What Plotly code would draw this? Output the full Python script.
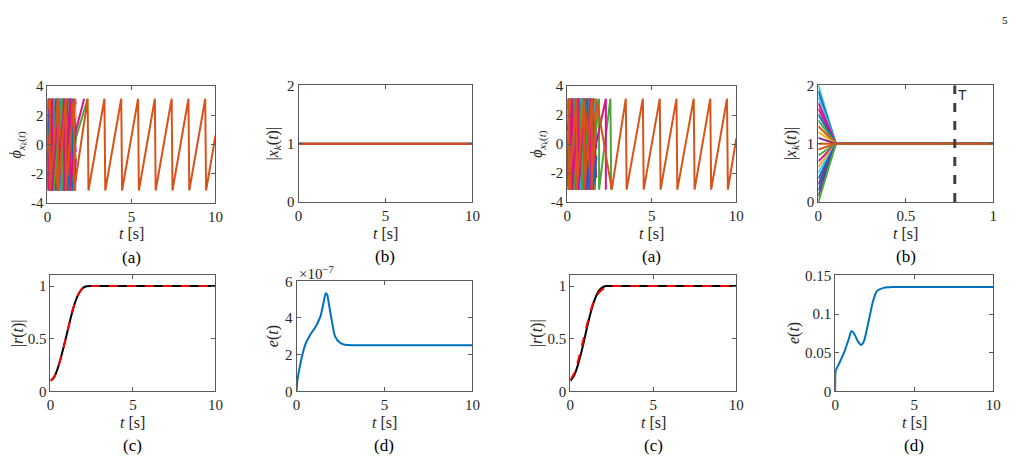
import math
import plotly.graph_objects as go

PI = math.pi
W, H = 1024, 466

# ---------------- colours ----------------
BLUE, ORANGE, YELLOW, PURPLE = "#0072BD", "#D95319", "#EDB120", "#7E2F8E"
GREEN, CYAN, MAGENTA = "#47A93B", "#4DBEEE", "#D4148A"

# ---------------- panel (a) left : phases, wrap times ----------------
a1_colors = [BLUE, MAGENTA, YELLOW, PURPLE, CYAN, GREEN, MAGENTA, BLUE, YELLOW, CYAN,
             PURPLE, MAGENTA, BLUE, ORANGE, GREEN, MAGENTA]
a1_start = [-3.1, 2.0, -1.0, 1.5, 0.5, 2.8, -2.6, 0.0, -2.5, 3.0, 1.0, -0.5, -1.5, 0.8, -2.0, -3.0]
a1_up = [True, False, True, False, True, False, True, False, False, False, True, False, True,
         False, True, True]
a1_wraps = [[0.02, 0.34, 0.66, 0.98, 1.30], [0.15, 0.45, 0.75, 1.05, 1.35, 1.65],
            [0.22, 0.68, 1.14, 1.60], [0.30, 0.80, 1.30], [0.10, 0.46, 0.82, 1.18, 1.54],
            [0.18, 0.56, 0.94, 1.32], [0.08, 0.38, 0.68, 0.98, 1.28, 1.58],
            [0.12, 0.52, 0.92, 1.32], [0.05, 0.42, 0.80, 1.18, 1.56],
            [0.03, 0.40, 0.77, 1.14, 1.51], [0.24, 0.62, 1.00, 1.38],
            [0.06, 0.33, 0.60, 0.87, 1.14, 1.41], [0.16, 0.50, 0.84, 1.18, 1.52],
            [0.20, 0.60, 1.00, 1.40], [0.36, 0.86, 1.36], [0.28, 0.64, 1.00, 1.36]]
a1_tail_t = [[1.60], [1.68], [1.68], [1.68], [1.66], [1.68], [1.68], [1.66], [1.68], [1.66],
             [1.66], [1.68], [1.66], [1.66], [1.70, 2.39], [1.68, 2.18]]
a1_tail_p = [[2.6], [2.8], [-2.0], [-2.5], [-1.0], [-1.0], [-1.0], [0.3], [1.8], [0.6],
             [1.5], [-0.5], [-1.0], [1.2], [0.5, 3.14], [0.9, 3.14]]
a1_sync_start = 2.4
a1_sync_wraps_early = [0.14, 0.62, 1.10, 1.58]
a1_sync_peaks = [2.39, 3.39, 4.39, 5.39, 6.39, 7.39, 8.39, 9.39]
a1_sync_end = 0.63

# ---------------- panel (a) right ----------------
a2_colors = [BLUE, MAGENTA, YELLOW, PURPLE, CYAN, GREEN, MAGENTA, BLUE, YELLOW, CYAN,
             PURPLE, MAGENTA, BLUE, ORANGE, GREEN, MAGENTA]
a2_start = [-3.0, 1.8, -0.8, 1.2, 0.6, 2.6, -2.4, 0.2, -2.2, 2.9, 0.9, -0.4, -1.7, 0.6, -2.2, -2.9]
a2_up = [True, False, True, False, True, False, True, False, False, False, True, False, True,
         False, True, True]
a2_wraps = [[0.03, 0.36, 0.69, 1.02, 1.35], [0.12, 0.42, 0.72, 1.02, 1.32, 1.62],
            [0.25, 0.70, 1.15, 1.60], [0.28, 0.78, 1.28], [0.12, 0.48, 0.84, 1.20, 1.56],
            [0.20, 0.58, 0.96, 1.34], [0.10, 0.40, 0.70, 1.00, 1.30, 1.60],
            [0.14, 0.54, 0.94, 1.34], [0.07, 0.44, 0.82, 1.20, 1.58],
            [0.04, 0.41, 0.78, 1.15, 1.52], [0.26, 0.64, 1.02, 1.40],
            [0.08, 0.35, 0.62, 0.89, 1.16, 1.43], [0.18, 0.52, 0.86, 1.20, 1.54],
            [0.22, 0.62, 1.02, 1.42], [0.38, 0.88, 1.38], [0.30, 0.66, 1.02, 1.38]]
a2_tail_t = [[1.68], [1.72], [1.72], [1.72], [1.70], [1.72], [1.72], [1.70], [1.72], [1.70],
             [1.70], [1.72], [1.70], [1.70], [1.72, 1.88, 1.88, 2.55, 2.60],
             [1.70, 2.28, 2.28]]
a2_tail_p = [[2.4], [2.6], [-1.8], [-2.3], [-0.8], [-1.2], [-0.8], [0.4], [1.6], [0.7],
             [1.3], [-0.3], [-0.9], [1.0], [1.0, 3.14, -3.14, 3.14, -3.14], [0.0, 3.14, -3.14]]
a2_sync_start = 2.4
a2_sync_wraps_early = [0.10, 0.55, 1.00, 1.45]
a2_sync_mid_t = [1.72, 2.63]
a2_sync_mid_p = [3.14, -3.14]
a2_sync_peaks = [3.46, 4.47, 5.47, 6.46, 7.48, 8.46, 9.45]
a2_sync_end = 0.4

# ---------------- panel (b) right : amplitudes ----------------
b2_start = [2.0, 1.9, 1.8, 1.7, 1.6, 1.5, 1.4, 1.3, 1.2, 1.1, 0.9, 0.8, 0.7, 0.6, 0.5, 0.4,
            0.3, 0.2, 0.1, 0.0]
b2_colors = [CYAN, BLUE, CYAN, MAGENTA, MAGENTA, BLUE, GREEN, ORANGE, YELLOW, PURPLE,
             ORANGE, GREEN, MAGENTA, YELLOW, CYAN, BLUE, PURPLE, BLUE, PURPLE, GREEN]
b2_conv_t = 0.1
b2_T = 0.78

# ---------------- panel (c) : order parameter ----------------
c_t = [0, 0.2, 0.4, 0.6, 0.8, 1.0, 1.2, 1.4, 1.6, 1.8, 2.0, 2.2, 2.5, 3.0, 10]
c1_black = [0.10, 0.13, 0.20, 0.30, 0.42, 0.55, 0.68, 0.80, 0.89, 0.95, 0.985, 0.998, 1.0, 1.0, 1.0]
c1_red = [0.10, 0.13, 0.20, 0.30, 0.42, 0.55, 0.68, 0.80, 0.89, 0.95, 0.985, 0.998, 1.0, 1.0, 1.0]
c2_black = [0.10, 0.14, 0.22, 0.33, 0.46, 0.60, 0.73, 0.84, 0.92, 0.97, 0.993, 1.0, 1.0, 1.0, 1.0]
c2_red = [0.11, 0.16, 0.25, 0.37, 0.50, 0.63, 0.75, 0.85, 0.91, 0.95, 0.975, 0.99, 1.0, 1.0, 1.0]

# ---------------- panel (d) : error ----------------
d1_t = [0, 0.05, 0.13, 0.32, 0.5, 0.79, 1.07, 1.35, 1.55, 1.66, 1.75, 1.81, 2.0, 2.19, 2.47,
        2.75, 3.1, 3.6, 10]
d1_e = [0, 0.6, 1.06, 1.94, 2.56, 3.1, 3.5, 4.06, 4.9, 5.35, 5.25, 4.94, 3.88, 3.0, 2.65,
        2.54, 2.52, 2.52, 2.52]   # units of 1e-7
d2_t = [0, 0.02, 0.06, 0.25, 0.56, 0.88, 1.02, 1.19, 1.46, 1.65, 1.82, 2.13, 2.4, 2.65, 3.07,
        3.7, 4.3, 10]
d2_e = [0, 0.024, 0.028, 0.036, 0.05, 0.069, 0.078, 0.075, 0.064, 0.06, 0.065, 0.092, 0.117,
        0.130, 0.134, 0.135, 0.135, 0.135]

# ---------------- layout boxes (pixels: left, right, top, bottom) ----------------
boxes = [(44, 214, 81, 202), (298, 474, 80, 201), (570, 741, 81, 201), (824, 1001, 80, 201),
         (47, 214, 277, 397), (296, 474, 283, 397), (573, 741, 277, 397), (841, 1001, 277, 397)]

fig = go.Figure()


def saw(t0, p0, up, wraps, tail_t, tail_p, slant=0.0):
    hi, lo = (PI, -PI) if up else (-PI, PI)
    ts, ps = [t0], [p0]
    for w in wraps:
        ts += [w, w + slant]
        ps += [hi, lo]
    return ts + list(tail_t), ps + list(tail_p)


def add_line(i, x, y, color, width=2, dash="solid", shape="linear"):
    ax = "" if i == 1 else str(i)
    line = dict(color=color, width=width, dash=dash, shape=shape)
    if shape == "spline":
        line["smoothing"] = 0.7
    fig.add_trace(go.Scatter(x=x, y=y, mode="lines", xaxis="x" + ax, yaxis="y" + ax,
                             line=line, showlegend=False, hoverinfo="skip"))


# panel 1
for c, p0, up, wr, tt, tp in zip(a1_colors, a1_start, a1_up, a1_wraps, a1_tail_t, a1_tail_p):
    x, y = saw(0, p0, up, wr, tt, tp)
    add_line(1, x, y, c)
x, y = saw(0, a1_sync_start, True, a1_sync_wraps_early, [], [])
x2, y2 = saw(x[-1], y[-1], True, a1_sync_peaks, [10], [a1_sync_end], slant=0.05)
add_line(1, x + x2[1:], y + y2[1:], ORANGE)

# panel 2
for c in [BLUE, GREEN, MAGENTA, ORANGE]:
    add_line(2, [0, 10], [1, 1], c)

# panel 3
for c, p0, up, wr, tt, tp in zip(a2_colors, a2_start, a2_up, a2_wraps, a2_tail_t, a2_tail_p):
    x, y = saw(0, p0, up, wr, tt, tp)
    add_line(3, x, y, c)
x, y = saw(0, a2_sync_start, True, a2_sync_wraps_early, a2_sync_mid_t, a2_sync_mid_p)
x2, y2 = saw(x[-1], y[-1], True, a2_sync_peaks, [10], [a2_sync_end], slant=0.05)
add_line(3, x + x2[1:], y + y2[1:], ORANGE)

# panel 4
for c, s in zip(b2_colors, b2_start):
    add_line(4, [0, b2_conv_t, 1], [s, 1, 1], c)
add_line(4, [0, 1], [1, 1], ORANGE)
add_line(4, [b2_T, b2_T], [0, 2], "#404040", width=3, dash="dash")

# panel 5, 7
add_line(5, c_t, c1_black, "black", shape="spline")
add_line(5, c_t, c1_red, "#FF0000", dash="dash", shape="spline")
add_line(7, c_t, c2_black, "black", shape="spline")
add_line(7, c_t, c2_red, "#FF0000", dash="dash", shape="spline")

# panel 6, 8
add_line(6, d1_t, d1_e, BLUE, shape="spline")
add_line(8, d2_t, d2_e, BLUE, shape="spline")

# axes
xr = [[0, 10]] * 3 + [[0, 1]] + [[0, 10]] * 4
xt = [[0, 5, 10]] * 3 + [[0, 0.5, 1]] + [[0, 5, 10]] * 4
xtt = [["0", "5", "10"]] * 3 + [["0", "0.5", "1"]] + [["0", "5", "10"]] * 4
yr = [[-4, 4], [0, 2], [-4, 4], [0, 2], [0, 1.1], [0, 6], [0, 1.1], [0, 0.15]]
yt = [[-4, -2, 0, 2, 4], [0, 1, 2], [-4, -2, 0, 2, 4], [0, 1, 2], [0, 0.5, 1], [0, 2, 4, 6],
      [0, 0.5, 1], [0, 0.05, 0.1, 0.15]]
ytt = [["-4", "-2", "0", "2", "4"], ["0", "1", "2"], ["-4", "-2", "0", "2", "4"], ["0", "1", "2"],
       ["0", "0.5", "1"], ["0", "2", "4", "6"], ["0", "0.5", "1"], ["0", "0.05", "0.1", "0.15"]]

SERIF = "Liberation Serif, Times New Roman, DejaVu Serif, serif"
tickfont = dict(family=SERIF, size=15, color="#262626")
lay = {}
for i, (l, r, t, b) in enumerate(boxes, start=1):
    s = "" if i == 1 else str(i)
    common = dict(showgrid=False, zeroline=False, showline=True, mirror="ticks",
                  linecolor="#595959", linewidth=1, ticks="inside", ticklen=4,
                  tickcolor="#595959", tickfont=tickfont, fixedrange=True)
    lay["xaxis" + s] = dict(domain=[l / W, r / W], anchor="y" + s, range=xr[i - 1],
                            tickvals=xt[i - 1], ticktext=xtt[i - 1], **common)
    lay["yaxis" + s] = dict(domain=[1 - b / H, 1 - t / H], anchor="x" + s, range=yr[i - 1],
                            tickvals=yt[i - 1], ticktext=ytt[i - 1], **common)

ann = []
ylabels = ["<i>ϕ</i><sub><i>x</i><sub><i>k</i></sub>(<i>t</i>)</sub>",
           "|<i>x</i><sub><i>k</i></sub>(<i>t</i>)|",
           "<i>ϕ</i><sub><i>x</i><sub><i>k</i></sub>(<i>t</i>)</sub>",
           "|<i>x</i><sub><i>k</i></sub>(<i>t</i>)|",
           "|<i>r</i>(<i>t</i>)|", "<i>e</i>(<i>t</i>)", "|<i>r</i>(<i>t</i>)|", "<i>e</i>(<i>t</i>)"]
ylab_x = [14, 273, 542, 797, 15, 273, 540, 800]
letters = ["(a)", "(b)", "(a)", "(b)", "(c)", "(d)", "(c)", "(d)"]
for i, (l, r, t, b) in enumerate(boxes):
    cx = (l + r) / 2
    ann.append(dict(x=ylab_x[i] / W, y=1 - ((t + b) / 2) / H, xref="paper", yref="paper",
                    text=ylabels[i], textangle=-90, showarrow=False,
                    font=dict(family=SERIF, size=16, color="#262626"),
                    xanchor="center", yanchor="middle"))
    ann.append(dict(x=cx / W, y=1 - (b + 32) / H, xref="paper", yref="paper",
                    text="<i>t</i> [s]", showarrow=False,
                    font=dict(family=SERIF, size=16, color="#262626"),
                    xanchor="center", yanchor="middle"))
    ann.append(dict(x=cx / W, y=1 - (b + 56) / H, xref="paper", yref="paper",
                    text=letters[i], showarrow=False,
                    font=dict(family=SERIF, size=17, color="#000000"),
                    xanchor="center", yanchor="middle"))

ann.append(dict(x=296 / W, y=1 - 274 / H, xref="paper", yref="paper",
                text="×10<sup>−7</sup>", showarrow=False,
                font=dict(family=SERIF, size=15, color="#262626"),
                xanchor="left", yanchor="middle"))
ann.append(dict(x=b2_T, y=1.83, xref="x4", yref="y4", text="T", showarrow=False,
                font=dict(family="Liberation Sans, Arial, sans-serif", size=14, color="#262626"),
                xanchor="left", yanchor="middle", xshift=1))
ann.append(dict(x=1013 / W, y=1 - 12 / H, xref="paper", yref="paper", text="5",
                showarrow=False, font=dict(family=SERIF, size=11, color="#000000"),
                xanchor="center", yanchor="middle"))

fig.update_layout(width=W, height=H, margin=dict(l=0, r=0, t=0, b=0),
                  paper_bgcolor="white", plot_bgcolor="white", annotations=ann, **lay)
fig.write_html("out.html")
